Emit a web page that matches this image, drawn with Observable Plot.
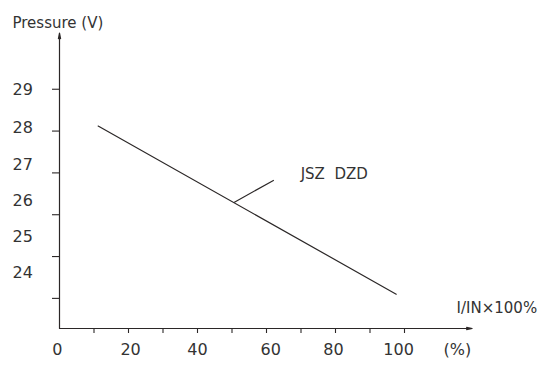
<!DOCTYPE html>
<html><head><meta charset="utf-8">
<script src="https://cdn.jsdelivr.net/npm/d3@7"></script>
<script src="https://cdn.jsdelivr.net/npm/@observablehq/plot@0.6"></script>
<style>body{margin:0;background:#fff} svg text{white-space:pre}</style>
</head><body><div id="chart"></div>
<script>
// Y axis ticks (true scale) and their printed labels (printed slightly off the ticks in the original)
const yTicks = [29, 28, 27, 26, 25, 24];
const yLabels = ["29", "28", "27", "26", "25", "24"];
const yLabelAt = [28.98, 28.07, 27.18, 26.32, 25.46, 24.62];
// X axis ticks and labels
const xTicks = [10, 20, 30, 40, 50, 60, 70, 80, 90, 100];
const xLabels = ["0", "20", "40", "60", "80", "100", "(%)"];
const xLabelAt = [-0.6, 20.6, 40, 61.2, 79.4, 98.3, 115.3];
// Series: JSZ DZD pressure vs load
const seriesX = [11.2, 97.6];
const seriesY = [28.12, 24.1];
// Annotation
const annoText = ["JSZ  DZD"];
const annoX = [69.9];
const annoY = [26.97];
const leaderX = [50.7, 62];
const leaderY = [26.3, 26.82];
// Axes extents
const originX = 0, originY = 23.28, xEnd = 119.6, yEnd = 30.34;
const xTitle = "I/IN×100%";
const yTitle = "Pressure (V)";

const ink = "#2b2727";
const txt = "#333";
const font = "DejaVu Sans";

const chart = Plot.plot({
  width: 538, height: 369,
  marginLeft: 59, marginRight: 65, marginTop: 26, marginBottom: 41,
  style: {fontFamily: font, fontSize: "15px", color: txt, background: "#fff"},
  x: {domain: [0, 120], axis: null},
  y: {domain: [originY, 30.5], axis: null},
  marks: [
    Plot.axisY({ticks: yTicks, tickSize: 7, tickFormat: () => "", label: null, stroke: ink, strokeWidth: 1.1}),
    Plot.axisX({ticks: xTicks, tickSize: 5, tickFormat: () => "", label: null, stroke: ink, strokeWidth: 1.1}),
    Plot.arrow([0], {x1: originX, y1: originY, x2: originX, y2: yEnd, stroke: ink, strokeWidth: 1.2, headLength: 7, headAngle: 22}),
    Plot.arrow([0], {x1: originX, y1: originY, x2: xEnd, y2: originY, stroke: ink, strokeWidth: 1.2, headLength: 7, headAngle: 22}),
    Plot.text(yLabels, {y: (d, i) => yLabelAt[i], text: d => d, frameAnchor: "left", dx: -47, textAnchor: "start", fill: txt, fontSize: 16}),
    Plot.text(xLabels, {x: (d, i) => xLabelAt[i], text: d => d, frameAnchor: "bottom", dy: 26, fill: txt, fontSize: 16}),
    Plot.line(seriesX.map((x, i) => ({x, y: seriesY[i]})), {x: "x", y: "y", stroke: ink, strokeWidth: 1.2}),
    Plot.line(leaderX.map((x, i) => ({x, y: leaderY[i]})), {x: "x", y: "y", stroke: ink, strokeWidth: 1.2}),
    Plot.text(annoText, {x: (d, i) => annoX[i], y: (d, i) => annoY[i], text: d => d, textAnchor: "start", fill: txt, fontSize: 15}),
    Plot.text([xTitle], {x: 115.1, frameAnchor: "bottom", dy: -16, text: d => d, textAnchor: "start", fill: txt, fontSize: 15}),
    Plot.text([yTitle], {frameAnchor: "top-left", dx: -47, dy: -9, text: d => d, textAnchor: "start", fill: txt, fontSize: 15})
  ]
});
document.getElementById("chart").append(chart);
</script>
</body></html>
